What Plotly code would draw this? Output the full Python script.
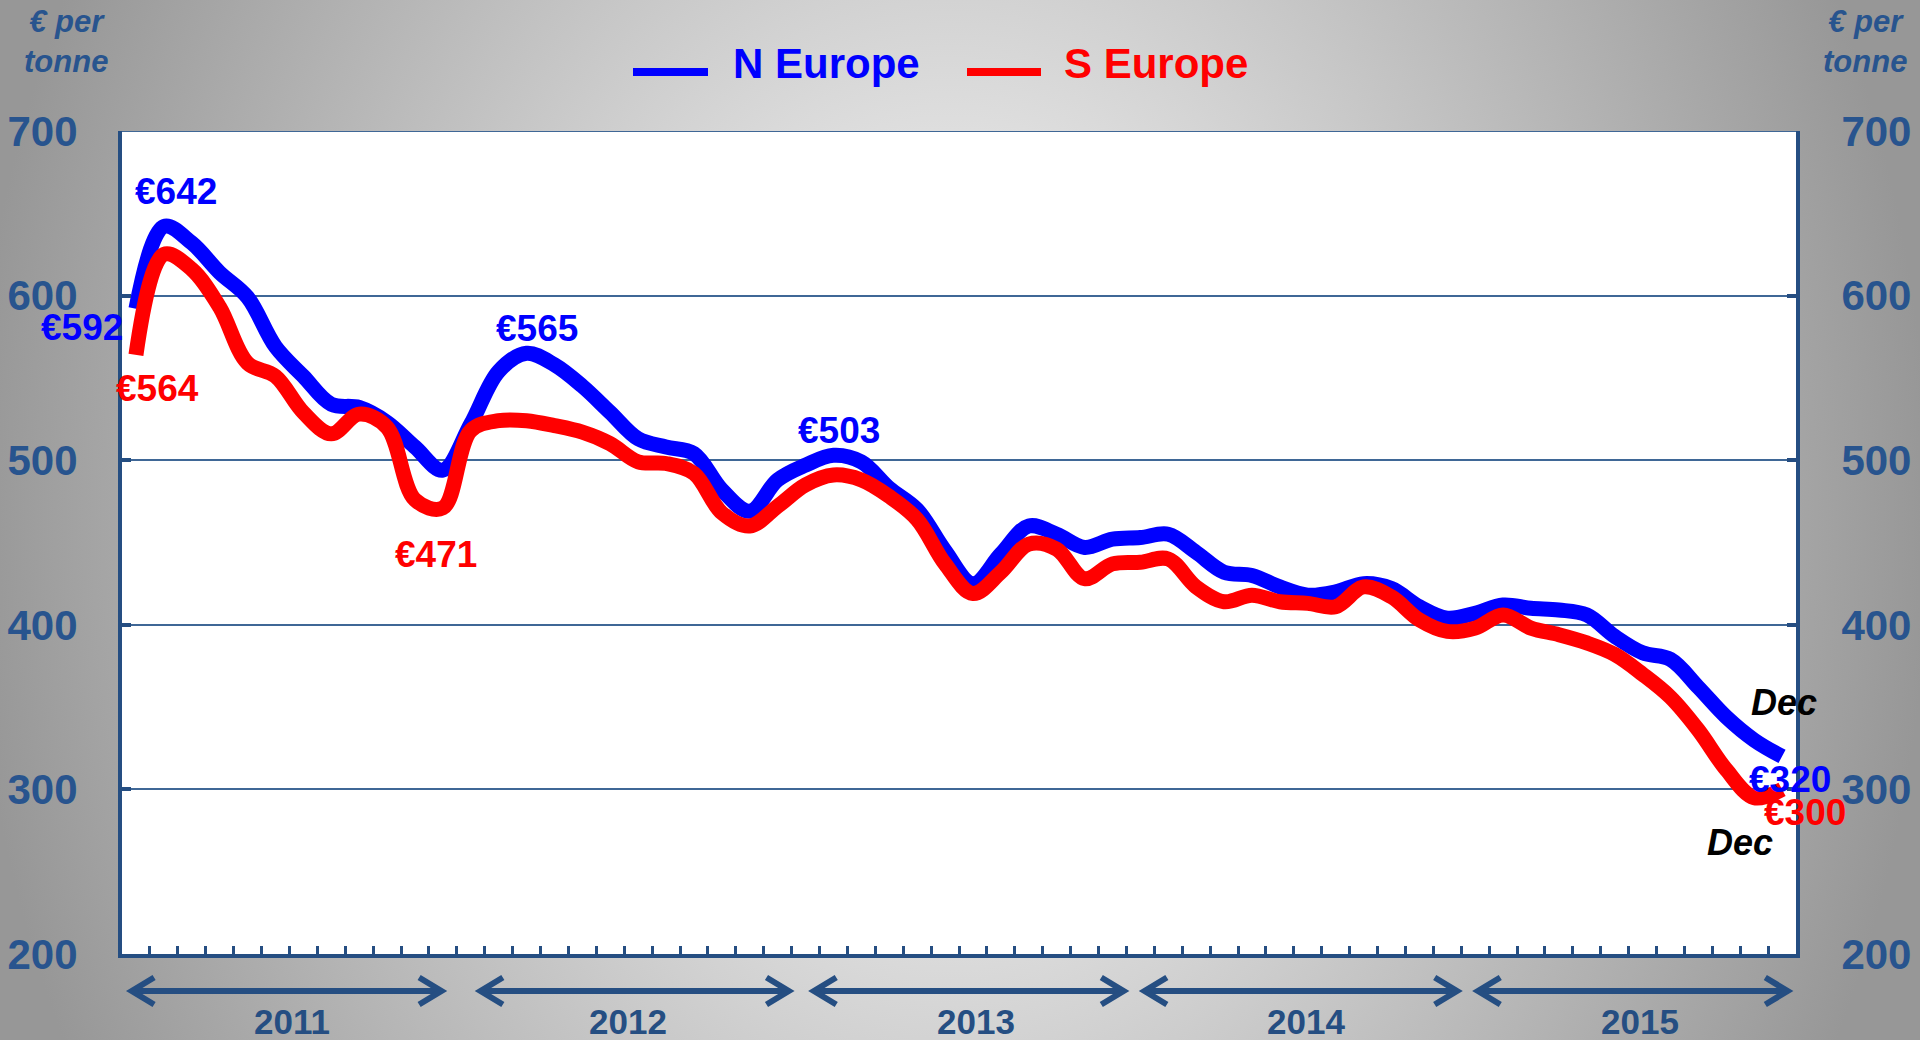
import base64
import plotly.graph_objects as go

# ---------------- data ----------------
month_names = ["Jan", "Feb", "Mar", "Apr", "May", "Jun",
               "Jul", "Aug", "Sep", "Oct", "Nov", "Dec"]
years = ["2011", "2012", "2013", "2014", "2015"]
months = [f"{m} {y}" for y in years for m in month_names]

n_europe = [592, 642, 632, 614, 599, 569, 551, 534, 532, 523, 508, 494,
            522, 554, 565, 558, 545, 529, 513, 508, 504, 482, 469, 488,
            497, 503, 499, 483, 470, 445, 425, 443, 460, 455, 447, 452,
            453, 455, 444, 432, 430, 423, 418, 420, 425, 422, 411, 404,
            407, 412, 410, 409, 406, 393, 383, 379, 362, 344, 330, 320]

s_europe = [564, 625, 616, 593, 559, 551, 529, 516, 528, 520, 476, 471,
            518, 524, 524, 521, 517, 510, 499, 498, 492, 468, 460, 472,
            485, 491, 488, 478, 464, 437, 419, 432, 449, 446, 428, 437,
            438, 440, 423, 414, 418, 414, 413, 411, 423, 417, 403, 396,
            398, 406, 398, 394, 389, 382, 370, 356, 336, 312, 295, 300]

y_ticks = [200, 300, 400, 500, 600, 700]
series_names = ["N Europe", "S Europe"]

# ---------------- styling ----------------
W, H = 1920, 1040
PL, PR, PT, PB = 122, 1796, 131, 954
FONT = "Liberation Sans"
BLUE = "#0000FF"
RED = "#FF0000"
AXIS = "#254E82"
GRID = "#3F6796"
TICKTXT = "#28548E"


def px_x(p):
    return p / W


def px_y(p):
    return 1 - p / H


svg = (
    f'<svg xmlns="http://www.w3.org/2000/svg" width="{W}" height="{H}" '
    f'viewBox="0 0 {W} {H}" preserveAspectRatio="none">'
    '<defs><radialGradient id="g" gradientUnits="userSpaceOnUse" cx="950" cy="520" r="980" '
    'gradientTransform="translate(950 520) scale(1 1.25) translate(-950 -520)">'
    '<stop offset="0" stop-color="#efefef"/>'
    '<stop offset="0.3" stop-color="#e0e0e0"/>'
    '<stop offset="0.7" stop-color="#b6b6b6"/>'
    '<stop offset="1" stop-color="#979797"/>'
    '</radialGradient></defs>'
    f'<rect x="0" y="0" width="{W}" height="{H}" fill="url(#g)"/>'
    f'<rect x="{PL}" y="{PT}" width="{PR - PL}" height="{PB - PT}" fill="#ffffff"/>'
    '</svg>'
)
bg_src = "data:image/svg+xml;base64," + base64.b64encode(svg.encode()).decode()

fig = go.Figure()
fig.add_trace(go.Scatter(
    x=months, y=n_europe, name=series_names[0], mode="lines",
    line=dict(color=BLUE, width=15, shape="spline", smoothing=1.0),
    showlegend=False))
fig.add_trace(go.Scatter(
    x=months, y=s_europe, name=series_names[1], mode="lines",
    line=dict(color=RED, width=15, shape="spline", smoothing=1.0),
    showlegend=False))
# invisible trace to bind the right-hand axis
fig.add_trace(go.Scatter(
    x=months, y=s_europe, yaxis="y2", mode="lines", opacity=0,
    line=dict(width=0), hoverinfo="skip", showlegend=False))

tickfont = dict(family=FONT, size=42, color=TICKTXT, weight="bold")

fig.update_layout(
    width=W, height=H,
    margin=dict(l=0, r=0, t=0, b=0),
    paper_bgcolor="#cfcfcf",
    plot_bgcolor="white",
    showlegend=False,
    xaxis=dict(
        type="category", domain=[px_x(PL), px_x(PR)], range=[-0.5, 59.5],
        showline=True, linewidth=4, linecolor=AXIS,
        ticks="inside", tickson="boundaries", ticklen=8, tickwidth=3,
        tickcolor=AXIS, showticklabels=False, showgrid=False,
        zeroline=False, automargin=False, fixedrange=True),
    yaxis=dict(
        domain=[px_y(PB), px_y(PT)], range=[200, 700], tickvals=y_ticks,
        showline=True, linewidth=4, linecolor=AXIS,
        ticks="inside", ticklen=9, tickwidth=4, tickcolor=AXIS,
        showgrid=True, gridcolor=GRID, gridwidth=2, zeroline=False,
        tickfont=tickfont, ticklabelstandoff=32, automargin=False,
        fixedrange=True),
    yaxis2=dict(
        overlaying="y", side="right", anchor="x", range=[200, 700],
        tickvals=y_ticks, showline=True, linewidth=4, linecolor=AXIS,
        ticks="inside", ticklen=9, tickwidth=4, tickcolor=AXIS,
        showgrid=False, zeroline=False, tickfont=tickfont,
        ticklabelstandoff=33, automargin=False, fixedrange=True),
    images=[dict(source=bg_src, xref="paper", yref="paper", x=0, y=1,
                 sizex=1, sizey=1, xanchor="left", yanchor="top",
                 sizing="stretch", layer="below")],
)

shapes = []
annotations = []

# top frame line at 700
shapes.append(dict(type="line", xref="x domain", yref="y", x0=0, x1=1,
                   y0=y_ticks[-1], y1=y_ticks[-1],
                   line=dict(color=GRID, width=2)))

# unit labels
for xc in (66, 1865):
    annotations.append(dict(
        xref="paper", yref="paper", x=px_x(xc), y=px_y(42),
        text="€ per<br>tonne", showarrow=False, xanchor="center",
        yanchor="middle", align="center",
        font=dict(family=FONT, size=31, color=TICKTXT, weight="bold",
                  style="italic")))

# manual legend
legend_items = [(series_names[0], BLUE, 633, 708, 731),
                (series_names[1], RED, 967, 1041, 1062)]
for name, col, lx0, lx1, tx in legend_items:
    shapes.append(dict(type="line", xref="paper", yref="paper",
                       x0=px_x(lx0), x1=px_x(lx1), y0=px_y(72), y1=px_y(72),
                       line=dict(color=col, width=8)))
    annotations.append(dict(
        xref="paper", yref="paper", x=px_x(tx), y=px_y(63), text=name,
        showarrow=False, xanchor="left", yanchor="middle",
        font=dict(family=FONT, size=42, color=col, weight="bold")))

# value labels: (series values, index, colour, xshift, yshift)
value_labels = [
    (n_europe, 1, BLUE, 12, 35),
    (n_europe, 0, BLUE, -54, -19),
    (s_europe, 0, RED, 22, -34),
    (n_europe, 14, BLUE, 10, 25),
    (s_europe, 11, RED, -7, -47),
    (n_europe, 25, BLUE, 6, 25),
    (n_europe, 59, BLUE, 8, -23),
    (s_europe, 59, RED, 23, -23),
]
for vals, idx, col, dx, dy in value_labels:
    annotations.append(dict(
        xref="x", yref="y", x=idx, y=vals[idx], text=f"€{vals[idx]}",
        showarrow=False, xanchor="center", yanchor="middle",
        xshift=dx, yshift=dy,
        font=dict(family=FONT, size=37, color=col, weight="bold")))

# "Dec" labels
for vals, dx, dy in [(n_europe, 2, 54), (s_europe, -42, -53)]:
    annotations.append(dict(
        xref="x", yref="y", x=len(vals) - 1, y=vals[-1], text="Dec",
        showarrow=False, xanchor="center", yanchor="middle",
        xshift=dx, yshift=dy,
        font=dict(family=FONT, size=36, color="black", weight="bold",
                  style="italic")))

# year arrows (category-index spans and label centres, styling only)
arrow_spans = [(-0.15, 10.95), (12.35, 23.4), (24.3, 35.4), (36.15, 47.35), (48.1, 59.2)]
label_pos = [5.6, 17.65, 30.1, 41.95, 53.9]
arrow_y = px_y(991)
head_w = 0.8
head_h = 0.013
for (x0, x1), lx, yr in zip(arrow_spans, label_pos, years):
    shapes.append(dict(type="line", xref="x", yref="paper", x0=x0, x1=x1,
                       y0=arrow_y, y1=arrow_y,
                       line=dict(color=AXIS, width=6)))
    shapes.append(dict(
        type="path", xref="x", yref="paper",
        path=f"M {x0 + head_w},{arrow_y + head_h} L {x0},{arrow_y} L {x0 + head_w},{arrow_y - head_h}",
        line=dict(color=AXIS, width=6)))
    shapes.append(dict(
        type="path", xref="x", yref="paper",
        path=f"M {x1 - head_w},{arrow_y + head_h} L {x1},{arrow_y} L {x1 - head_w},{arrow_y - head_h}",
        line=dict(color=AXIS, width=6)))
    annotations.append(dict(
        xref="x", yref="paper", x=lx, y=px_y(1021), text=yr,
        showarrow=False, xanchor="center", yanchor="middle",
        font=dict(family=FONT, size=35, color=AXIS, weight="bold")))

fig.update_layout(shapes=shapes, annotations=annotations)

fig.write_html(
    "out.html",
    config={"displayModeBar": False},
    post_script="document.body.style.margin='0';document.body.style.overflow='hidden';",
)
